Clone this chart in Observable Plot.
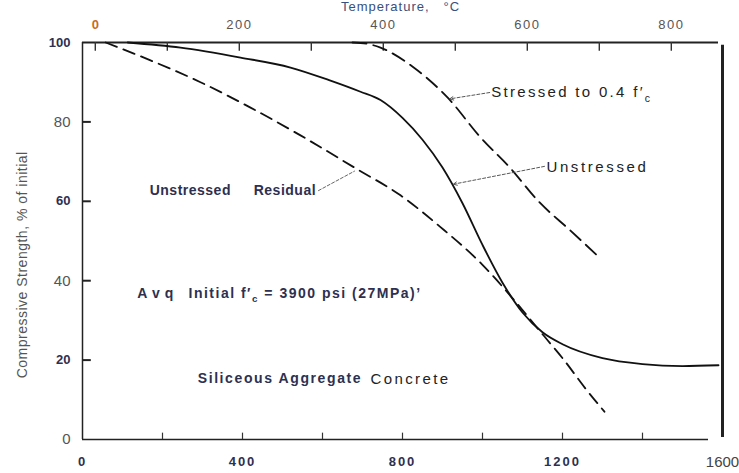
<!DOCTYPE html>
<html>
<head>
<meta charset="utf-8">
<script src="https://cdn.jsdelivr.net/npm/d3@7"></script>
<script src="https://cdn.jsdelivr.net/npm/@observablehq/plot@0.6"></script>
<style>
  html, body { margin: 0; padding: 0; background: #fff; }
  #chart svg { display: block; }
</style>
</head>
<body>
<div id="chart"></div>
<script>
// ---- Data (temperature in °F, strength in % of initial) ----
const unstressedTemp = [113, 245, 395, 520, 620, 695, 745, 800, 850, 900, 950, 1000, 1050, 1100, 1150, 1200, 1300, 1400, 1500, 1590];
const unstressedPct  = [100, 98.7, 96.2, 93.7, 90.4, 87.6, 85.5, 81, 75.5, 68.5, 59.5, 49, 39.5, 32, 27, 24, 20.5, 19, 18.5, 18.7];

const stressedTemp = [675, 710, 745, 828, 913, 995, 1070, 1138, 1220, 1295];
const stressedPct  = [100, 99.7, 98.7, 93.7, 86.1, 76.1, 68.3, 60.2, 52.6, 45.6];

const residualTemp = [58, 170, 295, 420, 545, 683, 795, 895, 1000, 1080, 1150, 1200, 1260, 1305];
const residualPct  = [100, 95.5, 90, 83.6, 76.6, 68.3, 61.5, 53.5, 44, 35, 26.5, 20.5, 12.5, 7];

// ---- Axis ticks ----
const fLabelTicks = [0, 400, 800, 1200, 1600];
const fMinorTicks = [200, 400, 600, 800, 1000, 1200, 1400];
const cLabelTicks = [0, 200, 400, 600, 800];
const cMinorTicks = [0, 100, 200, 300, 400, 500, 600, 700, 800];
const yTicks = [0, 20, 40, 60, 80, 100];
const yInnerTicks = [20, 40, 60, 80];

const cToF = c => c * 9 / 5 + 32;
const fToC = f => (f - 32) * 5 / 9;

// ---- Annotations (anchored in data units) ----
const curveLabels = [
  {text: "Stressed to 0.4 f′c", x: 1022, y: 87.4},
  {text: "Unstressed", x: 1160, y: 68.6}
];
const leaders = [
  {x1: 1018, y1: 87.4, x2: 918, y2: 85.8},
  {x1: 1155, y1: 68.8, x2: 927, y2: 64.3}
];
const residualLeader = [{x1: 590, y1: 62.7, x2: 680, y2: 67.6}];
const looseNotes = [
  {text: "Unstressed ", x: 168, y: 62.6},
  {text: "Residual", x: 428, y: 62.6}
];
const wideNotes = [
  {text: "Initial f′c = 3900 psi (27MPa)’", x: 265, y: 36.7},
  {text: "Siliceous Aggregate", x: 288, y: 15.3}
];
const spacedNotes = [{text: "Avq", x: 137, y: 36.7}];
const plainNotes = [{text: "Concrete", x: 720, y: 15.3}];
const topTitle = [{text: "Temperature,\u00a0\u00a0\u00a0°C", x: 795}];
const yTitle = [{text: "Compressive Strength, % of initial", x: 0, y: 44}];

// letter spacing per text (px)
const spacing = new Map([
  ["Stressed to 0.4 f′c", 2.3], ["Unstressed", 2.6], ["Unstressed ", 0.5], ["Residual", 0.5],
  ["Initial f′c = 3900 psi (27MPa)’", 1.5], ["Siliceous Aggregate", 1.6], ["Avq", 5],
  ["Concrete", 2.4], ["Temperature,\u00a0\u00a0\u00a0°C", 1.0], ["Compressive Strength, % of initial", 0.5]
]);

const font = "'Liberation Sans', Arial, Helvetica, sans-serif";

const chart = Plot.plot({
  width: 739,
  height: 473,
  marginLeft: 82,
  marginRight: 17,
  marginTop: 42,
  marginBottom: 34,
  style: {fontFamily: font, background: "white", color: "#222"},
  x: {domain: [0, 1600]},
  y: {domain: [0, 100]},
  marks: [
    // axes labels
    Plot.axisX({ticks: fLabelTicks, tickSize: 0, tickPadding: 17, fontSize: 13, label: null, tickFormat: d => String(d)}),
    Plot.axisX({anchor: "top", ticks: cLabelTicks.map(cToF), tickSize: 0, tickPadding: 14, fontSize: 13, label: null,
      tickFormat: f => String(Math.round(fToC(f)))}),
    Plot.axisY({ticks: yTicks, tickSize: 0, tickPadding: 12, fontSize: 13, label: null}),
    // frame lines
    Plot.ruleY([0], {x1: 0, x2: 1565, stroke: "#222", strokeWidth: 1.5}),
    Plot.ruleY([100], {x1: 0, x2: 1590, stroke: "#222", strokeWidth: 2}),
    Plot.ruleX([0], {y1: 0, y2: 100, stroke: "#222", strokeWidth: 1.5}),
    Plot.ruleX([1600], {y1: 0.5, y2: 99.3, stroke: "#222", strokeWidth: 3}),
    // inward ticks
    Plot.ruleX(fMinorTicks, {y1: 0, y2: 1.6, stroke: "#333", strokeWidth: 1.2}),
    Plot.ruleX(cMinorTicks.map(cToF), {y1: 100, y2: 97.8, stroke: "#333", strokeWidth: 1.4}),
    Plot.ruleY(yInnerTicks, {x1: 0, x2: 22, stroke: "#222", strokeWidth: 2}),
    // curves
    Plot.line(residualTemp.map((t, i) => ({t, v: residualPct[i]})),
      {x: "t", y: "v", stroke: "#111", strokeWidth: 1.8, strokeDasharray: "12,7", curve: "monotone-x"}),
    Plot.line(unstressedTemp.map((t, i) => ({t, v: unstressedPct[i]})),
      {x: "t", y: "v", stroke: "#111", strokeWidth: 1.8, curve: "monotone-x"}),
    Plot.line(stressedTemp.map((t, i) => ({t, v: stressedPct[i]})),
      {x: "t", y: "v", stroke: "#111", strokeWidth: 1.8, strokeDasharray: "14,7", curve: "monotone-x"}),
    // leaders
    Plot.arrow(leaders, {x1: "x1", y1: "y1", x2: "x2", y2: "y2", stroke: "#444", strokeWidth: 0.9,
      strokeDasharray: "3,2", headLength: 7, headAngle: 50}),
    Plot.arrow(residualLeader, {x1: "x1", y1: "y1", x2: "x2", y2: "y2", stroke: "#555", strokeWidth: 0.9,
      strokeDasharray: "3,2", headLength: 0}),
    // texts
    Plot.text(curveLabels, {x: "x", y: "y", text: "text", textAnchor: "start", fontSize: 15, fill: "#222"}),
    Plot.text(looseNotes, {x: "x", y: "y", text: "text", textAnchor: "start", fontSize: 14, fontWeight: "bold", fill: "#2d3050"}),
    Plot.text(wideNotes, {x: "x", y: "y", text: "text", textAnchor: "start", fontSize: 14, fontWeight: "bold", fill: "#2d3050"}),
    Plot.text(spacedNotes, {x: "x", y: "y", text: "text", textAnchor: "start", fontSize: 14, fontWeight: "bold", fill: "#2d3050"}),
    Plot.text(plainNotes, {x: "x", y: "y", text: "text", textAnchor: "start", fontSize: 15, fill: "#222"}),
    Plot.text(topTitle, {x: "x", frameAnchor: "top", dy: -41, text: "text", fontSize: 13, fill: "#3b4f7c"}),
    Plot.text(yTitle, {x: "x", y: "y", text: "text", rotate: -90, dx: -60, fontSize: 14, fill: "#555"})
  ]
});

document.getElementById("chart").appendChild(chart);

// ---- Post styling ----
const svg = d3.select(chart);
svg.selectAll("text").each(function () {
  const t = this.textContent;
  if (spacing.has(t)) d3.select(this).style("letter-spacing", spacing.get(t) + "px");
  if (t.includes("f′c")) {
    const fs = parseFloat(getComputedStyle(this).fontSize) || 13;
    const parts = t.split("f′c");
    const sel = d3.select(this);
    sel.text(null);
    sel.append("tspan").text(parts[0] + "f′");
    sel.append("tspan").attr("dy", fs * 0.3).attr("font-size", fs * 0.7).text("c");
    sel.append("tspan").attr("dy", -fs * 0.3).text(parts[1]);
  }
});
// y tick labels: alternating weights
svg.selectAll('g[aria-label="y-axis tick label"] text').each(function () {
  const v = this.textContent.trim();
  const bold = v === "100" || v === "60" || v === "20";
  d3.select(this).attr("font-weight", bold ? "bold" : "normal")
    .attr("fill", bold ? "#2d3050" : "#555")
    .attr("font-size", bold ? 13 : 15);
});
const xLabelGroups = svg.selectAll('g[aria-label="x-axis tick label"]').nodes();
// bottom (°F)
d3.select(xLabelGroups[0]).selectAll("text").each(function () {
  const v = this.textContent.trim();
  const sel = d3.select(this);
  if (v === "1600") sel.attr("fill", "#444").attr("font-size", 15);
  else sel.attr("font-weight", "bold").attr("fill", "#2d3050").style("letter-spacing", "2px");
});
// top (°C)
d3.select(xLabelGroups[1]).selectAll("text").each(function () {
  const v = this.textContent.trim();
  const sel = d3.select(this);
  if (v === "0") sel.attr("fill", "#c86a28").attr("font-weight", "bold");
  else sel.attr("fill", "#555").attr("font-weight", "normal").style("letter-spacing", "1.5px");
});
</script>
</body>
</html>
